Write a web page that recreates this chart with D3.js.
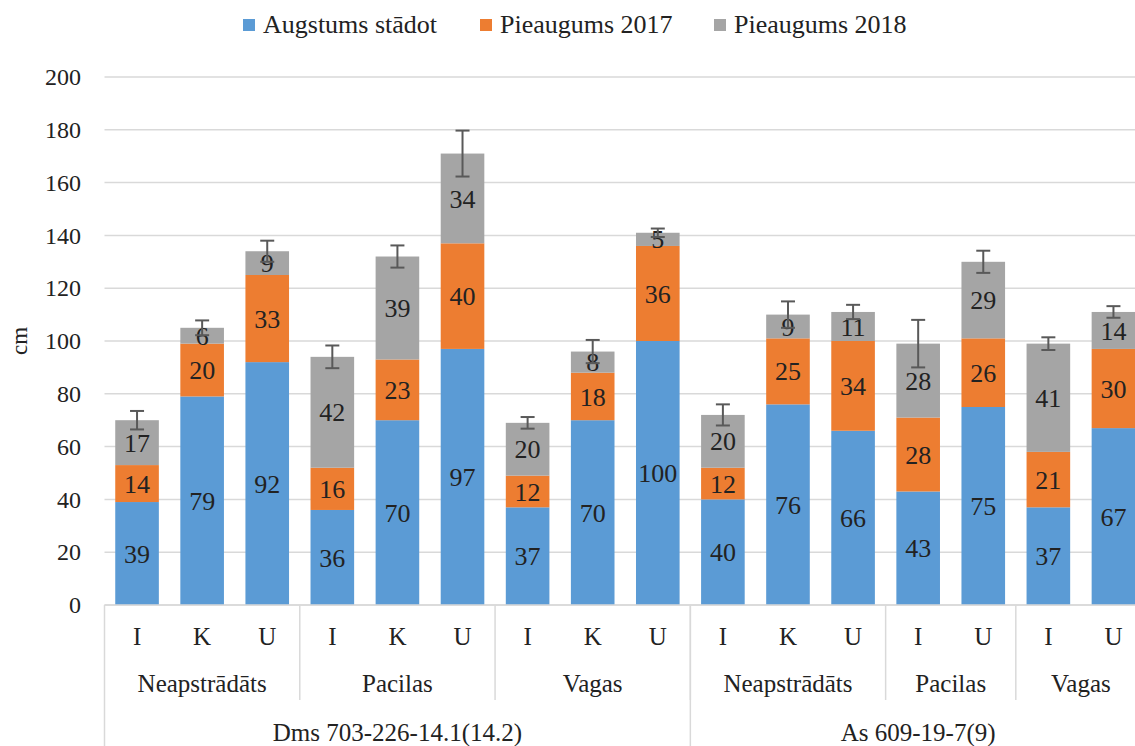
<!DOCTYPE html>
<html>
<head>
<meta charset="utf-8">
<script src="https://cdn.jsdelivr.net/npm/d3@7"></script>
<style>
  body { margin: 0; background: #fff; }
  svg text { font-family: "Liberation Serif", "Times New Roman", Times, serif !important; fill: #222; }
</style>
</head>
<body>
<div id="master"></div>
<script>
// data
const seriesNames = ["Augstums stādot", "Pieaugums 2017", "Pieaugums 2018"];
const colors = ["#5B9BD5", "#ED7D31", "#A5A5A5"];
const subLabels = ["I","K","U","I","K","U","I","K","U","I","K","U","I","U","I","U"];
const groupLabels = ["Neapstrādāts","Neapstrādāts","Neapstrādāts","Pacilas","Pacilas","Pacilas","Vagas","Vagas","Vagas",
  "Neapstrādāts","Neapstrādāts","Neapstrādāts","Pacilas","Pacilas","Vagas","Vagas"];
const cloneLabels = ["Dms 703-226-14.1(14.2)","Dms 703-226-14.1(14.2)","Dms 703-226-14.1(14.2)","Dms 703-226-14.1(14.2)",
  "Dms 703-226-14.1(14.2)","Dms 703-226-14.1(14.2)","Dms 703-226-14.1(14.2)","Dms 703-226-14.1(14.2)","Dms 703-226-14.1(14.2)",
  "As 609-19-7(9)","As 609-19-7(9)","As 609-19-7(9)","As 609-19-7(9)","As 609-19-7(9)","As 609-19-7(9)","As 609-19-7(9)"];
const heightPlanted = [39,79,92,36,70,97,37,70,100,40,76,66,43,75,37,67];
const growth2017 = [14,20,33,16,23,40,12,18,36,12,25,34,28,26,21,30];
const growth2018 = [17,6,9,42,39,34,20,8,5,20,9,11,28,29,41,14];
const errors = [3.5,2.8,4,4.3,4.2,8.7,2.2,4.4,1.6,4,5,2.7,9,4.2,2.4,2.2];
const yTicks = [0,20,40,60,80,100,120,140,160,180,200];

const W = 1135, H = 746;
const svg = d3.select("#master").append("svg").attr("width", W).attr("height", H);

const idx = d3.range(subLabels.length);
const x = d3.scaleBand().domain(idx).range([104.5, 1146]).paddingInner(0.33).paddingOuter(0.165);
const y = d3.scaleLinear().domain([0, 200]).range([605, 77]);

// gridlines
svg.append("g").selectAll("line").data(yTicks).enter().append("line")
  .attr("x1", 104.5).attr("x2", W).attr("y1", d => y(d)).attr("y2", d => y(d))
  .attr("stroke", "#d9d9d9").attr("stroke-width", 1.5);

// y labels
const yAxis = d3.axisLeft(y).tickValues(yTicks).tickSize(0).tickPadding(0);
const yg = svg.append("g").attr("transform", "translate(81,0)").call(yAxis);
yg.select(".domain").remove();
yg.selectAll("text").style("font-size", "24px").attr("fill", "#222");

svg.append("text").attr("transform", "translate(27," + y(100) + ") rotate(-90)")
  .attr("text-anchor", "middle").style("font-size", "23px").text("cm");

// stacks
const rows = idx.map(i => ({ i, s0: heightPlanted[i], s1: growth2017[i], s2: growth2018[i] }));
const stack = d3.stack().keys(["s0", "s1", "s2"])(rows);

const layers = svg.append("g").selectAll("g").data(stack).enter().append("g")
  .attr("fill", (d, k) => colors[k]);
layers.selectAll("rect").data(d => d).enter().append("rect")
  .attr("x", d => x(d.data.i)).attr("width", x.bandwidth())
  .attr("y", d => y(d[1])).attr("height", d => y(d[0]) - y(d[1]));

// error bars
const tops = rows.map(r => r.s0 + r.s1 + r.s2);
const eb = svg.append("g").attr("stroke", "#595959").attr("stroke-width", 2);
idx.forEach(i => {
  const cx = x(i) + x.bandwidth() / 2;
  const hi = y(tops[i] + errors[i]), lo = y(tops[i] - errors[i]);
  eb.append("line").attr("x1", cx).attr("x2", cx).attr("y1", hi).attr("y2", lo);
  eb.append("line").attr("x1", cx - 7).attr("x2", cx + 7).attr("y1", hi).attr("y2", hi);
  eb.append("line").attr("x1", cx - 7).attr("x2", cx + 7).attr("y1", lo).attr("y2", lo);
});

// segment labels
layers.selectAll("text").data(d => d).enter().append("text")
  .attr("x", d => x(d.data.i) + x.bandwidth() / 2)
  .attr("y", d => (y(d[0]) + y(d[1])) / 2)
  .attr("dy", "0.35em").attr("text-anchor", "middle")
  .style("font-size", "26px").attr("fill", "#222")
  .text(d => d[1] - d[0]);

// category axis
const step = x.step();
const left = 104.5;
const axisG = svg.append("g").attr("stroke", "#d9d9d9").attr("stroke-width", 1.5);
axisG.append("line").attr("x1", left).attr("x2", W).attr("y1", 605).attr("y2", 605);
axisG.append("line").attr("x1", left).attr("x2", left).attr("y1", 605).attr("y2", H);

svg.append("g").selectAll("text").data(idx).enter().append("text")
  .attr("x", i => x(i) + x.bandwidth() / 2).attr("y", 645)
  .attr("text-anchor", "middle").style("font-size", "25px").text(i => subLabels[i]);

function runs(keyFn) {
  const out = [];
  idx.forEach(i => {
    const k = keyFn(i);
    if (out.length && out[out.length - 1].key === k) out[out.length - 1].end = i;
    else out.push({ key: k, start: i, end: i });
  });
  return out;
}
const groupRuns = runs(i => cloneLabels[i] + "|" + groupLabels[i]);
const cloneRuns = runs(i => cloneLabels[i]);

groupRuns.forEach(r => {
  const x0 = left + r.start * step, x1 = left + (r.end + 1) * step;
  axisG.append("line").attr("x1", x1).attr("x2", x1).attr("y1", 605).attr("y2", 700);
  svg.append("text").attr("x", (x0 + x1) / 2).attr("y", 692).attr("text-anchor", "middle")
    .style("font-size", "25px").text(groupLabels[r.start]);
});
cloneRuns.forEach(r => {
  const x0 = left + r.start * step, x1 = left + (r.end + 1) * step;
  axisG.append("line").attr("x1", x1).attr("x2", x1).attr("y1", 605).attr("y2", H);
  svg.append("text").attr("x", (x0 + x1) / 2).attr("y", 741).attr("text-anchor", "middle")
    .style("font-size", "25px").text(cloneLabels[r.start]);
});

// legend
const legendX = [243, 480, 714];
const lg = svg.append("g");
seriesNames.forEach((n, k) => {
  lg.append("rect").attr("x", legendX[k]).attr("y", 19).attr("width", 12).attr("height", 12).attr("fill", colors[k]);
  lg.append("text").attr("x", legendX[k] + 20).attr("y", 33).style("font-size", "26px").text(n);
});
</script>
</body>
</html>
